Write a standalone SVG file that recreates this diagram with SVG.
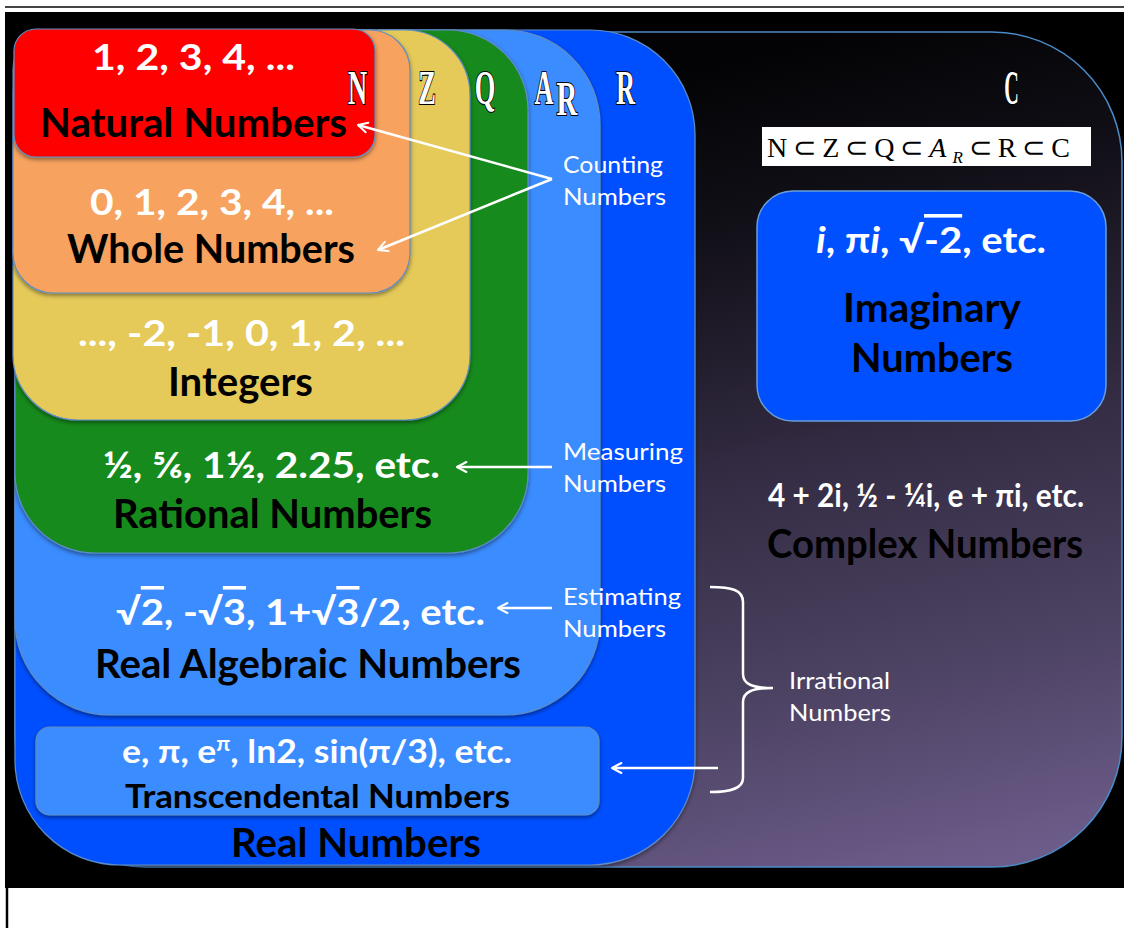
<svg xmlns="http://www.w3.org/2000/svg" width="1124" height="928" viewBox="0 0 1124 928">
<defs>
<linearGradient id="cgrad" gradientUnits="userSpaceOnUse" x1="820" y1="40" x2="1000" y2="860">
<stop offset="0" stop-color="#030305"/>
<stop offset="0.2" stop-color="#121018"/>
<stop offset="0.5" stop-color="#352d45"/>
<stop offset="0.75" stop-color="#4c4262"/>
<stop offset="1" stop-color="#6c5c8a"/>
</linearGradient>
<filter id="sh" x="-5%" y="-5%" width="110%" height="115%"><feDropShadow dx="0" dy="2" stdDeviation="2" flood-color="#000" flood-opacity="0.45"/></filter>
<marker id="ah" viewBox="0 0 10 10" refX="8.5" refY="5" markerWidth="5" markerHeight="5" orient="auto"><path d="M1,1 L8.5,5 L1,9" fill="none" stroke="#fff" stroke-width="1.6" stroke-linecap="round" stroke-linejoin="round"/></marker>
<style>
.box{stroke:#5f8dc4;stroke-width:1.2;filter:url(#sh)}
.num{font-family:Lato,'Liberation Sans',sans-serif;font-weight:700;fill:#fff}
.nm{font-family:Lato,'Liberation Sans',sans-serif;font-weight:700;fill:#000}
.lbl{font-family:Lato,'Open Sans',sans-serif;font-weight:400;fill:#fff;font-size:24px}
.sym{font-family:'Liberation Serif',serif;font-weight:700;fill:#fff;stroke:#000;stroke-width:2.2;paint-order:stroke;text-anchor:middle;font-size:48px}
.conn{stroke:#fff;stroke-width:2.5;fill:none}
.ol{text-decoration:overline}
</style>
</defs>
<rect width="1124" height="928" fill="#fff"/>
<line x1="5" y1="7" x2="1124" y2="7" stroke="#444" stroke-width="2"/>
<rect x="5" y="12" width="1119" height="876" fill="#000"/>
<line x1="7" y1="888" x2="7" y2="928" stroke="#000" stroke-width="2.5"/>

<g id="set-C">
<rect x="15" y="32" width="1107" height="835" rx="130" fill="url(#cgrad)" stroke="#4a8cc8" stroke-width="1.5"/>
<text class="sym" transform="translate(1011.5,104) scale(0.42,1)" stroke="none">C</text>
</g>

<g id="set-R">
<rect class="box" x="15" y="30" width="680" height="835" rx="105" fill="#0050ff"/>
<text class="sym" transform="translate(625.5,104) scale(0.55,1)">R</text>
<text class="nm" x="231" y="857" font-size="40" textLength="250" lengthAdjust="spacingAndGlyphs">Real Numbers</text>
</g>

<g id="transcendental">
<rect class="box" x="36" y="727" width="563" height="88" rx="14" fill="#3a8cff"/>
<text class="num" x="122" y="763" font-size="32" textLength="390" lengthAdjust="spacingAndGlyphs">e, π, e<tspan dy="-12" font-size="20">π</tspan><tspan dy="12">, ln2, sin(π/3), etc.</tspan></text>
<text class="nm" x="125" y="808" font-size="32" textLength="385" lengthAdjust="spacingAndGlyphs">Transcendental Numbers</text>
</g>

<g id="set-AR">
<rect class="box" x="15" y="30" width="585" height="685" rx="95" fill="#3a8cff"/>
<text class="sym" transform="translate(544,104) scale(0.55,1)">A</text>
<text class="sym" transform="translate(567,115) scale(0.6,1)" font-size="25">R</text>
<text class="num" x="116" y="625" font-size="36" textLength="369" lengthAdjust="spacingAndGlyphs">√<tspan class="ol">2</tspan>, -√<tspan class="ol">3</tspan>, 1+√<tspan class="ol">3</tspan>/2, etc.</text>
<text class="nm" x="95" y="678" font-size="40" textLength="426" lengthAdjust="spacingAndGlyphs">Real Algebraic Numbers</text>
</g>

<g id="set-Q">
<rect class="box" x="15" y="30" width="513" height="523" rx="80" fill="#138a1c"/>
<text class="sym" transform="translate(485,104) scale(0.55,1)">Q</text>
<text class="num" x="103" y="478" font-size="36" textLength="337" lengthAdjust="spacingAndGlyphs">½, ⅚, 1½, 2.25, etc.</text>
<text class="nm" x="113" y="528" font-size="40" textLength="319" lengthAdjust="spacingAndGlyphs">Rational Numbers</text>
</g>

<g id="set-Z">
<rect class="box" x="13" y="30" width="457" height="390" rx="65" fill="#e5ca5a"/>
<text class="sym" transform="translate(427,104) scale(0.55,1)">Z</text>
<text class="num" x="78" y="346" font-size="36" textLength="327" lengthAdjust="spacingAndGlyphs">..., -2, -1, 0, 1, 2, ...</text>
<text class="nm" x="168" y="396" font-size="40" textLength="145" lengthAdjust="spacingAndGlyphs">Integers</text>
</g>

<g id="set-W">
<rect class="box" x="13" y="30" width="397" height="263" rx="40" fill="#f8a25e"/>
<text class="num" x="90" y="215" font-size="36" textLength="244" lengthAdjust="spacingAndGlyphs">0, 1, 2, 3, 4, ...</text>
<text class="nm" x="67" y="263" font-size="40" textLength="288" lengthAdjust="spacingAndGlyphs">Whole Numbers</text>
</g>

<g id="set-N">
<rect class="box" x="14" y="29" width="361" height="128" rx="22" fill="#fe0000"/>
<text class="sym" transform="translate(357.5,104) scale(0.55,1)">N</text>
<text class="num" x="92" y="70" font-size="36" textLength="203" lengthAdjust="spacingAndGlyphs">1, 2, 3, 4, ...</text>
<text class="nm" x="40" y="137" font-size="40" textLength="307" lengthAdjust="spacingAndGlyphs">Natural Numbers</text>
</g>

<g id="subset-box">
<rect x="762" y="127" width="329" height="39" fill="#fff"/>
<text x="767" y="157" font-family="'Liberation Serif',serif" font-size="28" fill="#000" textLength="303" lengthAdjust="spacing">N⊂Z⊂Q⊂<tspan font-style="italic">A</tspan><tspan font-style="italic" font-size="17" dy="6">R</tspan><tspan dy="-6">⊂R⊂C</tspan></text>
</g>

<g id="imaginary">
<rect x="757" y="191" width="349" height="230" rx="36" fill="#0050ff" stroke="#6a9fd8" stroke-width="1.5"/>
<text class="num" x="816" y="253" font-size="36" textLength="230" lengthAdjust="spacingAndGlyphs"><tspan font-style="italic">i</tspan>, π<tspan font-style="italic">i</tspan>, √<tspan class="ol">-2</tspan>, etc.</text>
<text class="nm" x="843" y="322" font-size="40" textLength="178" lengthAdjust="spacingAndGlyphs">Imaginary</text>
<text class="nm" x="851" y="372" font-size="40" textLength="162" lengthAdjust="spacingAndGlyphs">Numbers</text>
</g>

<g id="complex-label">
<text class="num" x="768" y="507" font-size="33" textLength="316" lengthAdjust="spacingAndGlyphs">4 + 2i, ½ - ¼i, e + πi, etc.</text>
<text class="nm" x="767" y="558" font-size="40" textLength="316" lengthAdjust="spacingAndGlyphs">Complex Numbers</text>
</g>

<g id="notes">
<text class="lbl" x="563" y="173" textLength="100" lengthAdjust="spacingAndGlyphs">Counting</text>
<text class="lbl" x="563" y="205" textLength="103" lengthAdjust="spacingAndGlyphs">Numbers</text>
<text class="lbl" x="563" y="460" textLength="120" lengthAdjust="spacingAndGlyphs">Measuring</text>
<text class="lbl" x="563" y="492" textLength="103" lengthAdjust="spacingAndGlyphs">Numbers</text>
<text class="lbl" x="563" y="605" textLength="118" lengthAdjust="spacingAndGlyphs">Estimating</text>
<text class="lbl" x="563" y="637" textLength="103" lengthAdjust="spacingAndGlyphs">Numbers</text>
<text class="lbl" x="789" y="689" textLength="101" lengthAdjust="spacingAndGlyphs">Irrational</text>
<text class="lbl" x="789" y="721" textLength="102" lengthAdjust="spacingAndGlyphs">Numbers</text>
</g>

<g id="connectors">
<line class="conn" x1="552" y1="179" x2="358" y2="125" marker-end="url(#ah)"/>
<line class="conn" x1="552" y1="179" x2="378" y2="250" marker-end="url(#ah)"/>
<line class="conn" x1="552" y1="467" x2="457" y2="467" marker-end="url(#ah)"/>
<line class="conn" x1="552" y1="608" x2="498" y2="608" marker-end="url(#ah)"/>
<line class="conn" x1="718" y1="768" x2="612" y2="768" marker-end="url(#ah)"/>
<path class="conn" d="M710,587 C732,587 743,590 743,602 L743,674 C743,684 752,688 773,688 C752,688 743,692 743,702 L743,778 C743,788 732,792 710,792"/>
</g>
</svg>
